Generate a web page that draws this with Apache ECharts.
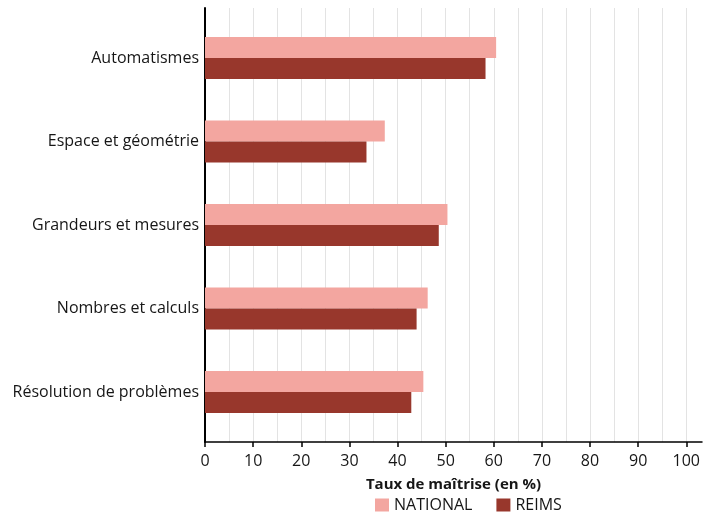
<!DOCTYPE html>
<html><head><meta charset="utf-8">
<script src="https://cdn.jsdelivr.net/npm/echarts@6/dist/echarts.min.js"></script>
<style>html,body{margin:0;padding:0;background:#fff}#c{width:703px;height:516px}</style>
</head><body><div id="c"></div>
<script>
const categories = ["Automatismes","Espace et géométrie","Grandeurs et mesures","Nombres et calculs","Résolution de problèmes"];
const seriesNames = ["NATIONAL","REIMS"];
const national = [60.4, 37.3, 50.3, 46.2, 45.3];
const reims = [58.2, 33.5, 48.5, 43.9, 42.8];
const xTicks = [0,10,20,30,40,50,60,70,80,90,100];

const FONT = "'Open Sans', 'Noto Sans', sans-serif";
const TXT = '#161616';
const chart = echarts.init(document.getElementById('c'), null, {renderer:'canvas'});
const G_TOP = 8, G_H = 434, LEFT = 205;
chart.setOption({
  animation:false,
  textStyle:{fontFamily:FONT},
  grid:[
    {left:LEFT, top:G_TOP, width:482, height:G_H},
    {left:LEFT, top:G_TOP, width:497, height:G_H},
    {left:LEFT, top:16.25, width:482, height:417.5}
  ],
  xAxis:[
    {gridIndex:0, type:'value', min:xTicks[0], max:xTicks[xTicks.length-1], interval:10,
     axisLine:{show:false},
     axisTick:{show:true, length:5, lineStyle:{color:'#000', width:1.5}},
     axisLabel:{fontSize:16, color:TXT, margin:11, fontFamily:FONT},
     splitLine:{show:true, lineStyle:{color:'#e3e3e3', width:1}},
     minorTick:{show:false, splitNumber:2},
     minorSplitLine:{show:true, lineStyle:{color:'#e3e3e3', width:1}}},
    {gridIndex:1, type:'value', min:0, max:103,
     axisLine:{show:true, lineStyle:{color:'#000', width:1.5}},
     axisTick:{show:false}, axisLabel:{show:false}, splitLine:{show:false},
     name:'Taux de maîtrise (en %)', nameLocation:'middle', nameGap:35,
     nameTextStyle:{fontWeight:'bold', fontSize:15, color:TXT, fontFamily:FONT}},
    {gridIndex:2, type:'value', min:0, max:100, show:false}
  ],
  yAxis:[
    {gridIndex:0, type:'category', data:categories, inverse:true,
     axisLine:{show:true, lineStyle:{color:'#000', width:2}},
     axisTick:{show:false}, axisLabel:{show:false}, splitLine:{show:false}},
    {gridIndex:1, type:'category', data:categories, show:false},
    {gridIndex:2, type:'category', data:categories, inverse:true,
     axisLine:{show:false}, axisTick:{show:false},
     axisLabel:{fontSize:16, color:TXT, margin:6, fontFamily:FONT}}
  ],
  legend:{
    data:seriesNames, top:492, left:370, padding:5, itemWidth:14, itemHeight:13, itemGap:24,
    icon:'rect', textStyle:{fontSize:16, color:TXT, fontFamily:FONT}
  },
  series:[
    {name:seriesNames[0], type:'bar', xAxisIndex:2, yAxisIndex:2, data:national,
     barWidth:21, barGap:'0%', itemStyle:{color:'#F3A6A0'}},
    {name:seriesNames[1], type:'bar', xAxisIndex:2, yAxisIndex:2, data:reims,
     barWidth:21, barGap:'0%', itemStyle:{color:'#98372C'}}
  ]
});
</script></body></html>
